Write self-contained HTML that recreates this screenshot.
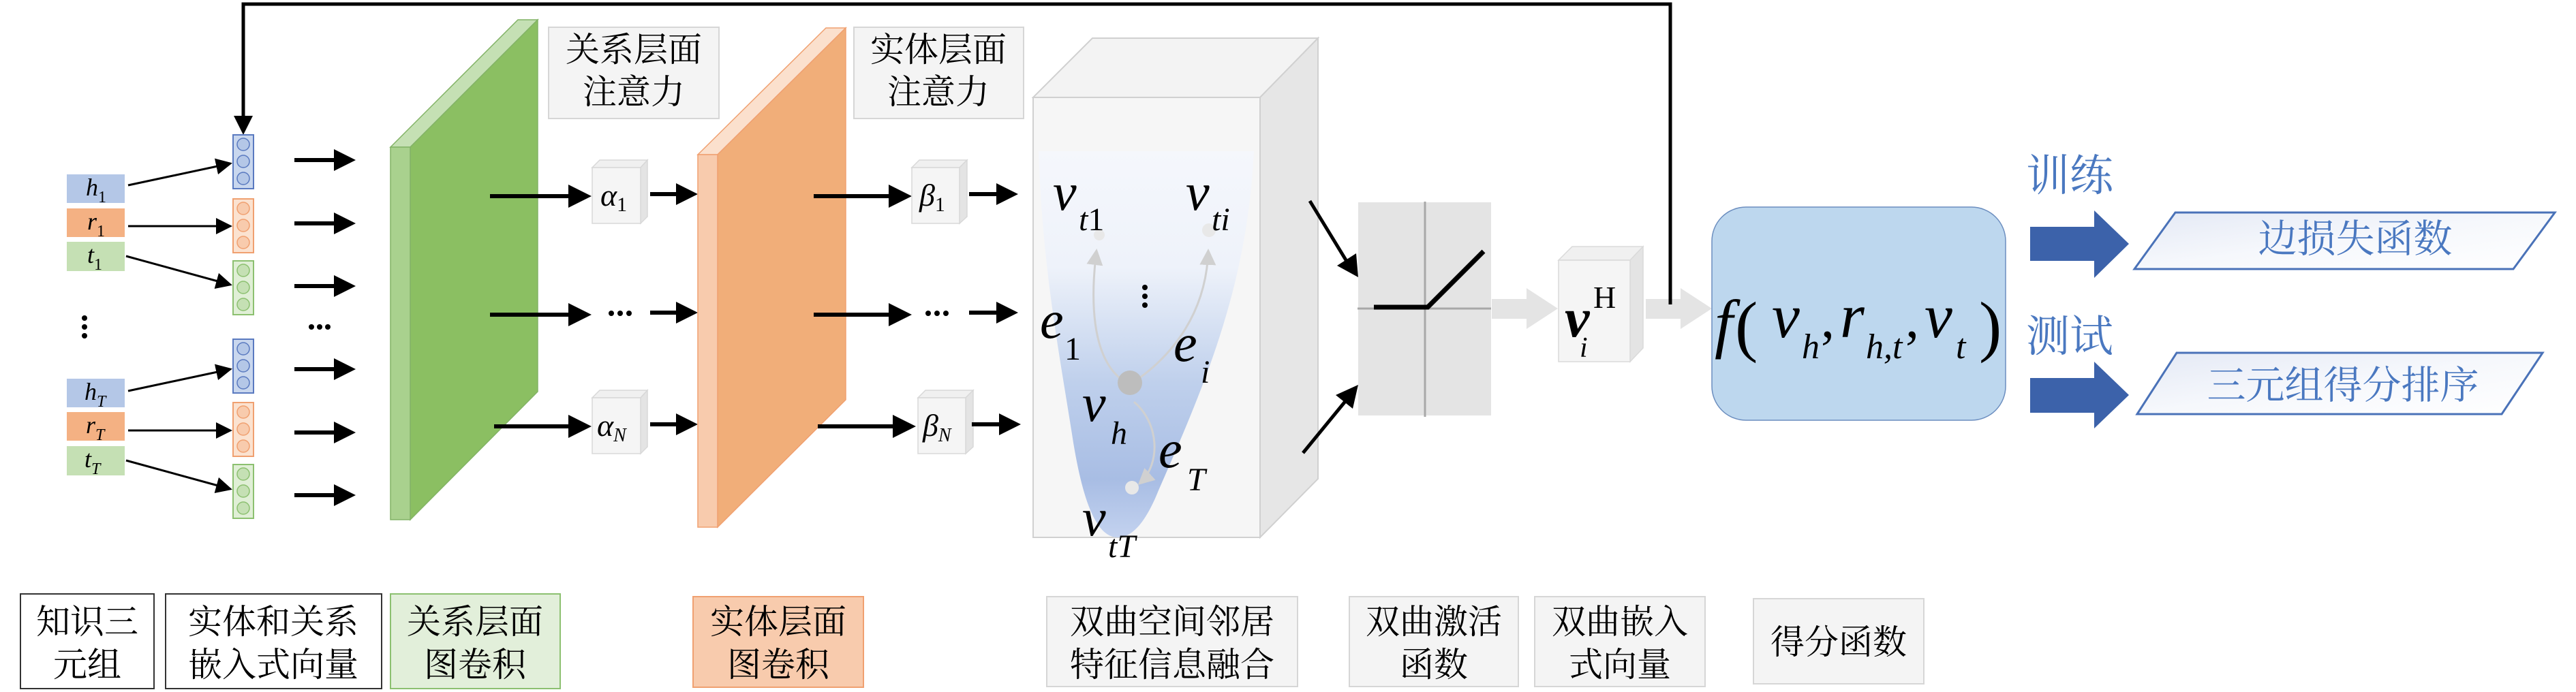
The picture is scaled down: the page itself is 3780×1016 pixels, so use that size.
<!DOCTYPE html>
<html><head><meta charset="utf-8">
<style>
html,body{margin:0;padding:0;background:#fff;}
svg{display:block;}
.cj{font-family:"Liberation Serif","Noto Serif CJK SC","Noto Sans CJK SC",serif;}
.m{font-family:"Liberation Serif","DejaVu Serif",serif;font-style:italic;}
</style></head>
<body>
<svg width="3780" height="1016" viewBox="0 0 3780 1016" xmlns="http://www.w3.org/2000/svg">
<defs>
<marker id="ah" markerWidth="8" markerHeight="8" refX="7" refY="4" orient="auto" markerUnits="strokeWidth">
<path d="M0,0 L8,4 L0,8 z" fill="#000"/></marker>
<marker id="ga" markerWidth="8" markerHeight="8" refX="7" refY="4" orient="auto" markerUnits="strokeWidth">
<path d="M0,0 L8,4 L0,8 z" fill="#d0d0d0"/></marker>
<linearGradient id="par" x1="0" y1="0" x2="0" y2="1">
<stop offset="0" stop-color="#f5f7fc"/><stop offset="0.3" stop-color="#eef2fa"/>
<stop offset="0.6" stop-color="#bfd0ec"/><stop offset="0.85" stop-color="#a8bde4"/><stop offset="1" stop-color="#c3d2ef"/></linearGradient>
<linearGradient id="pg" x1="0" y1="0" x2="1" y2="1">
<stop offset="0" stop-color="#e4e9f5"/><stop offset="0.5" stop-color="#f6f8fc"/><stop offset="1" stop-color="#ffffff"/></linearGradient>
</defs>

<polyline points="2451,447 2451,6 357,6 357,180" fill="none" stroke="#000" stroke-width="5"/>
<path d="M343,170 L371,170 L357,198 z" fill="#000"/>

<g stroke="#fff" stroke-width="2">
<rect x="97" y="255" width="87" height="44" fill="#b4c7e7"/>
<rect x="97" y="305" width="87" height="44" fill="#f4b183"/>
<rect x="97" y="354" width="87" height="45" fill="#c5e0b4"/>
<rect x="97" y="555" width="87" height="44" fill="#b4c7e7"/>
<rect x="97" y="604" width="87" height="44" fill="#f4b183"/>
<rect x="97" y="654" width="87" height="45" fill="#c5e0b4"/>
</g>
<g class="m" font-size="36" fill="#000">
<text x="126" y="287">h<tspan font-style="normal" font-size="24" dy="10">1</tspan></text>
<text x="128" y="337">r<tspan font-style="normal" font-size="24" dy="10">1</tspan></text>
<text x="128" y="386">t<tspan font-style="normal" font-size="24" dy="10">1</tspan></text>
<text x="124" y="587">h<tspan font-size="24" dy="10">T</tspan></text>
<text x="126" y="636">r<tspan font-size="24" dy="10">T</tspan></text>
<text x="124" y="686">t<tspan font-size="24" dy="10">T</tspan></text>
</g>
<g fill="#000"><circle cx="124" cy="467" r="4"/><circle cx="124" cy="480" r="4"/><circle cx="124" cy="493" r="4"/></g>

<g stroke="#000" stroke-width="3" marker-end="url(#ah)">
<line x1="188" y1="272" x2="338" y2="240"/>
<line x1="188" y1="332" x2="338" y2="332"/>
<line x1="185" y1="376" x2="338" y2="418"/>
<line x1="188" y1="574" x2="338" y2="542"/>
<line x1="188" y1="632" x2="338" y2="632"/>
<line x1="185" y1="676" x2="338" y2="718"/>
</g>

<g stroke-width="2">
<rect x="342" y="198" width="30" height="79" fill="#c9d7ee" stroke="#5a7ac0"/>
<rect x="342" y="292" width="30" height="79" fill="#fbe2d0" stroke="#f0a070"/>
<rect x="342" y="383" width="30" height="79" fill="#e0efd6" stroke="#8cc070"/>
<rect x="342" y="498" width="30" height="79" fill="#c9d7ee" stroke="#5a7ac0"/>
<rect x="342" y="591" width="30" height="79" fill="#fbe2d0" stroke="#f0a070"/>
<rect x="342" y="682" width="30" height="79" fill="#e0efd6" stroke="#8cc070"/>
</g>
<g stroke-width="1.5">
<g fill="#b4c7e7" stroke="#5a7ac0"><circle cx="357" cy="212" r="9"/><circle cx="357" cy="237" r="9"/><circle cx="357" cy="262" r="9"/>
<circle cx="357" cy="512" r="9"/><circle cx="357" cy="537" r="9"/><circle cx="357" cy="562" r="9"/></g>
<g fill="#f8cbad" stroke="#f0a070"><circle cx="357" cy="306" r="9"/><circle cx="357" cy="331" r="9"/><circle cx="357" cy="356" r="9"/>
<circle cx="357" cy="605" r="9"/><circle cx="357" cy="630" r="9"/><circle cx="357" cy="655" r="9"/></g>
<g fill="#c5e0b4" stroke="#8cc070"><circle cx="357" cy="397" r="9"/><circle cx="357" cy="422" r="9"/><circle cx="357" cy="447" r="9"/>
<circle cx="357" cy="696" r="9"/><circle cx="357" cy="721" r="9"/><circle cx="357" cy="746" r="9"/></g>
</g>

<g fill="#000">
<g id="fa"><rect x="432" y="232" width="60" height="6"/><path d="M490,219 L522,235 L490,251 z"/></g>
<use href="#fa" y="93"/><use href="#fa" y="185"/><use href="#fa" y="307"/><use href="#fa" y="400"/><use href="#fa" y="492"/>
<circle cx="457" cy="480" r="4"/><circle cx="469" cy="480" r="4"/><circle cx="481" cy="480" r="4"/>
</g>

<polygon points="573,216 760,29 789,29 602,216" fill="#c5e0b4" stroke="#82b366" stroke-width="1.5"/>
<polygon points="602,216 789,29 789,575 602,763" fill="#8bbf62" stroke="#82b366" stroke-width="1.5"/>
<rect x="573" y="216" width="29" height="547" fill="#a9d18e" stroke="#82b366" stroke-width="1.5"/>

<rect x="805" y="40" width="250" height="134" fill="#f4f4f4" stroke="#d6d6d6" stroke-width="2"/>
<text class="cj" x="930" y="90" font-size="50" text-anchor="middle">关系层面</text>
<text class="cj" x="930" y="152" font-size="50" text-anchor="middle">注意力</text>
<rect x="1253" y="40" width="249" height="134" fill="#f4f4f4" stroke="#d6d6d6" stroke-width="2"/>
<text class="cj" x="1377" y="90" font-size="50" text-anchor="middle">实体层面</text>
<text class="cj" x="1377" y="152" font-size="50" text-anchor="middle">注意力</text>

<g fill="#000">
<g id="la"><rect x="719" y="285" width="118" height="6"/><path d="M834,271 L868,288 L834,305 z"/></g>
<use href="#la" y="174"/>
<g transform="translate(6,338)"><rect x="719" y="285" width="112" height="6"/><path d="M828,271 L862,288 L828,305 z"/></g>
</g>
<g stroke="#d8d8d8" stroke-width="1.5">
<polygon points="869,246 880,235 950,235 940,246" fill="#f0f0f0"/>
<polygon points="940,246 950,235 950,318 940,328" fill="#e4e4e4"/>
<rect x="869" y="246" width="71" height="82" fill="#f5f5f5"/>
<polygon points="869,584 880,573 950,573 940,584" fill="#f0f0f0"/>
<polygon points="940,584 950,573 950,656 940,666" fill="#e4e4e4"/>
<rect x="869" y="584" width="71" height="82" fill="#f5f5f5"/>
</g>
<text class="m" x="881" y="302" font-size="46">α<tspan font-style="normal" font-size="30" dy="8">1</tspan></text>
<text class="m" x="876" y="640" font-size="46">α<tspan font-size="28" dy="8">N</tspan></text>
<g fill="#000"><circle cx="897" cy="460" r="4"/><circle cx="910" cy="460" r="4"/><circle cx="923" cy="460" r="4"/></g>
<g fill="#000">
<g id="sa"><rect x="954" y="282" width="40" height="6"/><path d="M992,269 L1024,285 L992,301 z"/></g>
<use href="#sa" y="174"/><use href="#sa" y="338"/>
</g>

<polygon points="1024,227 1212,41 1241,41 1053,227" fill="#fbe0cd" stroke="#f0a070" stroke-width="1.5"/>
<polygon points="1053,227 1241,41 1241,587 1053,774" fill="#f1ae79" stroke="#f0a070" stroke-width="1.5"/>
<rect x="1024" y="227" width="29" height="547" fill="#f8cbad" stroke="#f0a070" stroke-width="1.5"/>

<g fill="#000">
<g id="lb"><rect x="1194" y="285" width="112" height="6"/><path d="M1304,271 L1338,288 L1304,305 z"/></g>
<use href="#lb" y="174"/>
<g transform="translate(6,338)"><rect x="1194" y="285" width="112" height="6"/><path d="M1304,271 L1338,288 L1304,305 z"/></g>
</g>
<g stroke="#d8d8d8" stroke-width="1.5">
<polygon points="1338,246 1349,235 1419,235 1408,246" fill="#f0f0f0"/>
<polygon points="1408,246 1419,235 1419,318 1408,328" fill="#e4e4e4"/>
<rect x="1338" y="246" width="70" height="82" fill="#f5f5f5"/>
<polygon points="1347,584 1358,573 1428,573 1417,584" fill="#f0f0f0"/>
<polygon points="1417,584 1428,573 1428,656 1417,666" fill="#e4e4e4"/>
<rect x="1347" y="584" width="70" height="82" fill="#f5f5f5"/>
</g>
<text class="m" x="1349" y="302" font-size="46">β<tspan font-style="normal" font-size="30" dy="8">1</tspan></text>
<text class="m" x="1354" y="640" font-size="46">β<tspan font-size="28" dy="8">N</tspan></text>
<g fill="#000"><circle cx="1362" cy="460" r="4"/><circle cx="1375" cy="460" r="4"/><circle cx="1388" cy="460" r="4"/></g>
<g fill="#000">
<g transform="translate(468,0)"><rect x="954" y="282" width="42" height="6"/><path d="M994,269 L1026,285 L994,301 z"/></g>
<g transform="translate(468,174)"><rect x="954" y="282" width="42" height="6"/><path d="M994,269 L1026,285 L994,301 z"/></g>
<g transform="translate(472,338)"><rect x="954" y="282" width="42" height="6"/><path d="M994,269 L1026,285 L994,301 z"/></g>
</g>

<polygon points="1516,143 1603,56 1934,56 1849,143" fill="#f3f3f3" stroke="#d0d0d0" stroke-width="2"/>
<polygon points="1849,143 1934,56 1934,703 1849,789" fill="#e6e6e6" stroke="#d0d0d0" stroke-width="2"/>
<rect x="1516" y="143" width="333" height="646" fill="#f6f6f6" stroke="#d0d0d0" stroke-width="2"/>
<path d="M1524,222 L1840,222 C1830,420 1770,560 1700,720 C1680,770 1660,789 1640,789 C1610,789 1590,740 1575,650 C1555,520 1530,400 1524,222 z" fill="url(#par)"/>
<g fill="none" stroke="#d0d0d0" stroke-width="3">
<path d="M1643,555 C1602,520 1600,440 1609,368" marker-end="url(#ga)"/>
<path d="M1672,555 C1720,520 1770,460 1773,368" marker-end="url(#ga)"/>
<path d="M1664,590 C1700,620 1705,680 1672,710" marker-end="url(#ga)"/>
</g>
<circle cx="1613" cy="345" r="8" fill="#e8e8e8"/>
<circle cx="1774" cy="338" r="10" fill="#e8e8e8"/>
<circle cx="1658" cy="562" r="18" fill="#bdbdbd"/>
<circle cx="1661" cy="716" r="10" fill="#e8e8e8"/>
<g class="m" fill="#000">
<text x="1545" y="308" font-size="78">v</text><text x="1583" y="338" font-size="48">t<tspan font-style="normal">1</tspan></text>
<text x="1740" y="308" font-size="78">v</text><text x="1778" y="338" font-size="48">ti</text>
<text x="1526" y="496" font-size="78">e</text><text x="1562" y="528" font-size="48" font-style="normal">1</text>
<text x="1722" y="530" font-size="78">e</text><text x="1762" y="562" font-size="48">i</text>
<text x="1588" y="618" font-size="78">v</text><text x="1630" y="652" font-size="48">h</text>
<text x="1700" y="686" font-size="78">e</text><text x="1742" y="720" font-size="48">T</text>
<text x="1588" y="786" font-size="78">v</text><text x="1626" y="818" font-size="48">tT</text>
</g>
<g fill="#000"><circle cx="1680" cy="422" r="4"/><circle cx="1680" cy="435" r="4"/><circle cx="1680" cy="448" r="4"/></g>

<line x1="1922" y1="295" x2="1980" y2="390" stroke="#000" stroke-width="5"/>
<path d="M1993,407 L1962,390 L1990,372 z" fill="#000"/>
<line x1="1912" y1="665" x2="1980" y2="582" stroke="#000" stroke-width="5"/>
<path d="M1993,565 L1960,580 L1985,600 z" fill="#000"/>

<rect x="1993" y="297" width="195" height="313" fill="#e4e4e4"/>
<line x1="2091" y1="296" x2="2091" y2="612" stroke="#a8a8a8" stroke-width="3"/>
<line x1="1992" y1="453" x2="2188" y2="453" stroke="#a8a8a8" stroke-width="3"/>
<polyline points="2016,451 2095,451 2177,369" fill="none" stroke="#000" stroke-width="7"/>

<polygon points="2189,439 2240,439 2240,423 2286,453 2240,483 2240,468 2189,468" fill="#e4e4e4"/>
<polygon points="2415,439 2466,439 2466,423 2512,453 2466,483 2466,468 2415,468" fill="#e4e4e4"/>
<line x1="2451" y1="300" x2="2451" y2="447" stroke="#000" stroke-width="5"/>

<polygon points="2287,382 2307,362 2411,362 2392,382" fill="#f0f0f0" stroke="#dadada" stroke-width="1.5"/>
<polygon points="2392,382 2411,362 2411,511 2392,531" fill="#e4e4e4" stroke="#dadada" stroke-width="1.5"/>
<rect x="2287" y="382" width="105" height="149" fill="#f5f5f5" stroke="#dadada" stroke-width="1.5"/>
<text x="2296" y="494" font-family="Liberation Serif,DejaVu Serif,serif" font-style="italic" font-weight="bold" font-size="82">v</text>
<text x="2338" y="452" font-family="Liberation Serif,DejaVu Serif,serif" font-size="46">H</text>
<text x="2318" y="524" class="m" font-size="42">i</text>

<rect x="2512" y="304" width="431" height="313" rx="50" ry="50" fill="#bdd7ee" stroke="#6c8ebf" stroke-width="1.5"/>
<text class="m" x="2516" y="507" font-size="96">f</text>
<text x="2546" y="512" font-family="Liberation Serif,serif" font-size="100">(</text>
<text class="m" x="2600" y="495" font-size="92">v</text>
<text class="m" x="2644" y="526" font-size="52">h</text>
<text x="2672" y="495" font-family="Liberation Serif,serif" font-size="80">,</text>
<text class="m" x="2700" y="495" font-size="92">r</text>
<text class="m" x="2738" y="526" font-size="52">h,t</text>
<text x="2796" y="495" font-family="Liberation Serif,serif" font-size="80">,</text>
<text class="m" x="2824" y="495" font-size="92">v</text>
<text class="m" x="2870" y="526" font-size="52">t</text>
<text x="2904" y="512" font-family="Liberation Serif,serif" font-size="100">)</text>

<text class="cj" x="2973" y="280" font-size="64" fill="#4a78c0">训练</text>
<text class="cj" x="2973" y="516" font-size="64" fill="#4a78c0">测试</text>
<polygon points="2979,333 3073,333 3073,309 3124,358 3073,408 3073,383 2979,383" fill="#3c62aa"/>
<polygon points="2979,555 3073,555 3073,531 3124,580 3073,629 3073,606 2979,606" fill="#3c62aa"/>
<polygon points="3132,395 3192,312 3749,312 3688,395" fill="url(#pg)" stroke="#4a72b8" stroke-width="3"/>
<polygon points="3136,608 3194,518 3731,518 3671,608" fill="url(#pg)" stroke="#4a72b8" stroke-width="3"/>
<text class="cj" x="3456" y="370" font-size="57" fill="#4a78c0" text-anchor="middle">边损失函数</text>
<text class="cj" x="3438" y="585" font-size="57" fill="#4a78c0" text-anchor="middle">三元组得分排序</text>

<g stroke-width="2">
<rect x="30" y="872" width="196" height="139" fill="#fff" stroke="#333"/>
<rect x="243" y="872" width="317" height="139" fill="#fff" stroke="#333"/>
<rect x="573" y="872" width="249" height="139" fill="#e2efda" stroke="#8cc070"/>
<rect x="1017" y="876" width="250" height="133" fill="#f8cbad" stroke="#f0a070"/>
<rect x="1536" y="876" width="368" height="132" fill="#f4f4f4" stroke="#d6d6d6"/>
<rect x="1980" y="876" width="248" height="132" fill="#f4f4f4" stroke="#d6d6d6"/>
<rect x="2252" y="876" width="250" height="132" fill="#f4f4f4" stroke="#d6d6d6"/>
<rect x="2573" y="879" width="250" height="125" fill="#f4f4f4" stroke="#d6d6d6"/>
</g>
<g class="cj" font-size="50" text-anchor="middle" fill="#000">
<text x="128" y="930">知识三</text><text x="128" y="993">元组</text>
<text x="401" y="930">实体和关系</text><text x="401" y="993">嵌入式向量</text>
<text x="697" y="930">关系层面</text><text x="697" y="993">图卷积</text>
<text x="1142" y="930">实体层面</text><text x="1142" y="993">图卷积</text>
<text x="1720" y="930">双曲空间邻居</text><text x="1720" y="993">特征信息融合</text>
<text x="2104" y="930">双曲激活</text><text x="2104" y="993">函数</text>
<text x="2377" y="930">双曲嵌入</text><text x="2377" y="993">式向量</text>
<text x="2698" y="960">得分函数</text>
</g>
</svg>
</body></html>
